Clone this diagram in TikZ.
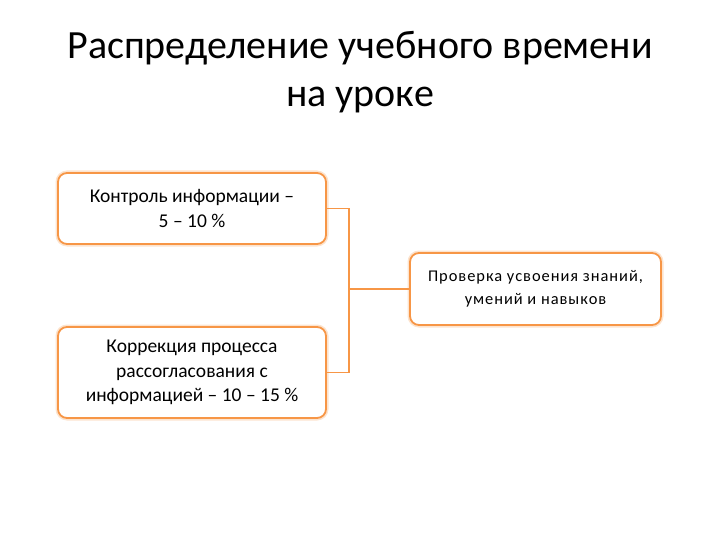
\documentclass[tikz,border=0pt]{standalone}
\usepackage{fontspec}
\setmainfont{Carlito}
\newfontfamily\spacedfont[LetterSpace=6]{Carlito}
\definecolor{boxorange}{HTML}{F79646}
\definecolor{glow}{HTML}{FCE4CF}
\begin{document}
\begin{tikzpicture}[x=1pt,y=-1pt,
  boxstyle/.style={draw=boxorange, line width=1.8pt, rounded corners=9pt, fill=white,
     align=center, inner sep=0pt, font=\fontsize{19.5}{24.5}\selectfont,
     preaction={draw=glow, line width=5pt}},
  link/.style={draw=boxorange, line width=1.6pt}]
\useasboundingbox (0,0) rectangle (720,540);
\node[font=\fontsize{40}{48}\selectfont, align=center] (title) at (360,72)
  {Распределение учебного времени\\на уроке};
\node[boxstyle, minimum width=268pt, minimum height=71pt] (b1) at (192,208.5)
  {Контроль информации –\\5 – 10 \%};
\node[boxstyle, minimum width=251pt, minimum height=72pt, font=\spacedfont\fontsize{16.4}{23}\selectfont] (b2) at (535.5,289)
  {Проверка  усвоения знаний,\\умений и навыков};
\node[boxstyle, minimum width=268pt, minimum height=91pt] (b3) at (192,372.5)
  {Коррекция процесса\\рассогласования с\\информацией – 10 – 15 \%};
\coordinate (top) at (349,208.5);
\coordinate (mid) at (349,289);
\coordinate (bot) at (349,372.5);
\draw[link] (b1.east) -- (top) -- (bot) -- (b3.east);
\draw[link] (mid) -- (b2.west);
\end{tikzpicture}
\end{document}
